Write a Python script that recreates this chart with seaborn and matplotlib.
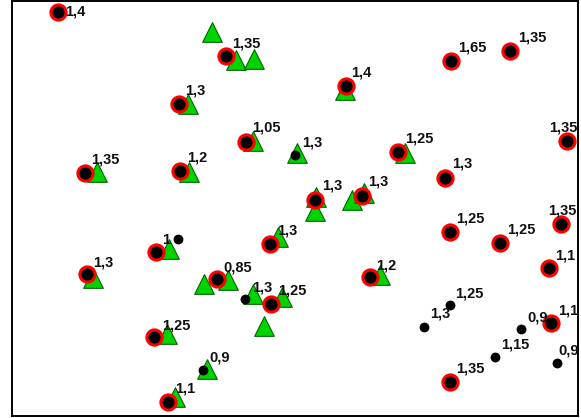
import matplotlib
matplotlib.use("Agg")
import matplotlib.pyplot as plt
import seaborn as sns
import pandas as pd

# Red-ringed points (x, y in image-like units, y grows downward)
red_x = [58, 226, 179, 246, 85, 180, 346, 451, 510, 567, 398, 445, 315, 362,
         450, 500, 561, 549, 270, 87, 156, 217, 271, 370, 154, 168, 551, 450]
red_y = [12, 56, 104, 142, 173, 171, 86, 61, 51, 141, 152, 178, 200, 196,
         233, 244, 225, 269, 245, 275, 253, 280, 305, 278, 338, 403, 324, 383]

# Green triangles
tri_x = [212, 236, 254, 188, 253, 97, 189, 345, 297, 405, 316, 315, 352, 364,
         169, 278, 93, 204, 228, 253, 282, 264, 380, 167, 207, 175]
tri_y = [32, 60, 59, 104, 141, 172, 172, 90, 153, 153, 197, 212, 200, 193,
         250, 238, 279, 285, 281, 295, 298, 327, 276, 335, 370, 398]

# Small black dots
dot_x = [295, 178, 245, 203, 424, 450, 495, 521, 557]
dot_y = [155, 240, 300, 371, 328, 306, 358, 330, 364]

# Value labels (text, left x, baseline y)
lab_text = ["1,4", "1,35", "1,3", "1,05", "1,35", "1,2", "1,4", "1,65", "1,35",
            "1,35", "1,25", "1,3", "1,3", "1,3", "1,25", "1,25", "1,35", "1,1",
            "1,3", "1,3", "1", "0,85", "1,25", "1,2", "1,25", "1,1", "1,1",
            "1,35", "1,3", "1,3", "0,9", "1,3", "1,25", "1,15", "0,9", "0,9"]
lab_x = [65, 232, 185, 252, 91, 187, 351, 458, 518,
         549, 405, 452, 322, 368, 456, 507, 548, 555,
         277, 93, 162, 223, 278, 376, 162, 175, 558,
         456, 302, 252, 209, 430, 455, 501, 527, 558]
lab_y = [16, 48, 95, 132, 164, 162, 77, 52, 42,
         132, 143, 168, 190, 186, 223, 234, 215, 260,
         235, 267, 245, 272, 295, 270, 330, 393, 315,
         373, 147, 292, 362, 318, 298, 349, 322, 355]

red_df = pd.DataFrame({"x": red_x, "y": red_y})
tri_df = pd.DataFrame({"x": tri_x, "y": tri_y})
dot_df = pd.DataFrame({"x": dot_x, "y": dot_y})

sns.set_style("white")
plt.rcParams["font.family"] = ["Liberation Sans", "DejaVu Sans"]

fig = plt.figure(figsize=(5.81, 4.18), dpi=100)
ax = fig.add_axes([12 / 581, 2 / 418, 566 / 581, 415 / 418])

sns.scatterplot(data=tri_df, x="x", y="y", ax=ax, marker="^", s=200,
                color="#00d400", edgecolor="#006400", linewidth=0.8, zorder=2)
sns.scatterplot(data=dot_df, x="x", y="y", ax=ax, marker="o", s=50,
                color="black", edgecolor="black", linewidth=0, zorder=3)
sns.scatterplot(data=red_df, x="x", y="y", ax=ax, marker="o", s=120,
                color="black", edgecolor="#ff0000", linewidth=2.2, zorder=4)

for t, x, y in zip(lab_text, lab_x, lab_y):
    ax.text(x, y, t, ha="left", va="baseline", fontsize=10.5,
            fontweight="bold", color="#111111", zorder=5)

ax.set_xlim(12, 578)
ax.set_ylim(417, 1)
ax.set_xticks([])
ax.set_yticks([])
ax.set_xlabel("")
ax.set_ylabel("")
for sp in ax.spines.values():
    sp.set_visible(True)
    sp.set_color("black")
    sp.set_linewidth(1.4)

fig.savefig("out.png", dpi=100)
